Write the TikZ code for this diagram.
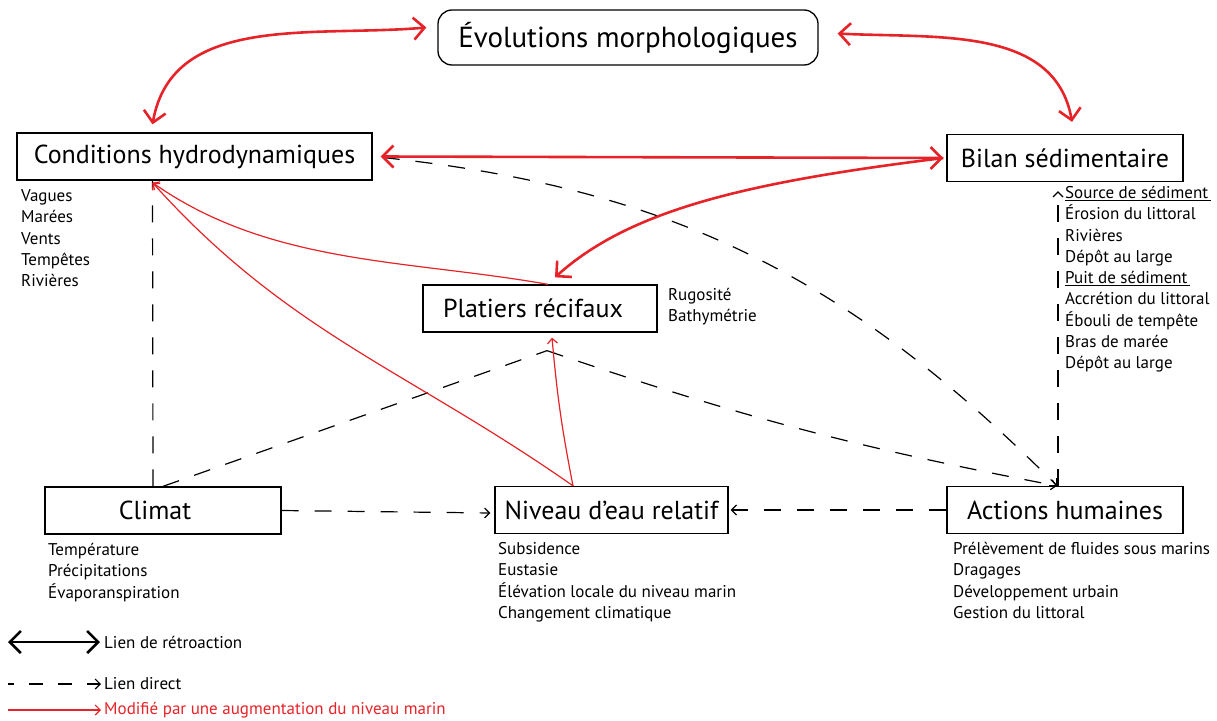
\documentclass[tikz,border=0pt]{standalone}
\usepackage{fontspec}
\setmainfont{PT Sans}
\usetikzlibrary{arrows.meta}
\definecolor{linkred}{RGB}{230,35,40}
\tikzset{
  barb/.tip={Straight Barb[length=11pt,width=22pt]},
  smallbarb/.tip={Straight Barb[length=5pt,width=10pt]}
}

\begin{document}
\begin{tikzpicture}[x=1pt, y=1pt,
  box/.style={draw, line width=1.3pt, minimum height=47pt, inner sep=0pt,
              font=\fontsize{26}{30}\selectfont},
  lst/.style={anchor=north west, align=left, inner sep=0pt, font=\fontsize{17}{21.3}\selectfont},
  leg/.style={anchor=west, inner sep=0pt, font=\fontsize{17}{21}\selectfont},
  fb/.style={linkred, line width=2.6pt, barb-barb},
  thk/.style={linkred, line width=2.6pt, -barb},
  sl/.style={linkred, line width=1.2pt, -smallbarb},
  dl/.style={line width=1.2pt, dash pattern=on 17pt off 16pt}
]
\useasboundingbox (0,0) rectangle (1217,-720);

% ---------------- boxes ----------------
\node[box, rounded corners=14pt, minimum width=380pt, minimum height=55pt,
      font=\fontsize{29}{32}\selectfont] (evo) at (628,-37.5) {Évolutions morphologiques};
\node[box, minimum width=355pt] (hydro) at (194.5,-156.5) {Conditions hydrodynamiques};
\node[box, minimum width=236pt] (bilan) at (1065,-158) {Bilan sédimentaire};
\node[box, minimum width=234pt] (platiers) at (540,-308.5) {Platiers récifaux\hspace*{14pt}};
\node[box, minimum width=236pt] (climat) at (163,-510.5) {Climat\hspace*{16pt}};
\node[box, minimum width=233pt] (niveau) at (611.5,-510) {Niveau d’eau relatif};
\node[box, minimum width=236pt] (actions) at (1065,-510) {Actions humaines};

% ---------------- lists ----------------
\node[lst] (hydrolist) at (21,-186.3) {\strut Vagues\\Marées\\Vents\\Tempêtes\\Rivières};
\node[lst] (bilanlist) at (1065,-183.3) {\strut\underline{Source de sédiment\,}\\Érosion du littoral\\Rivières\\Dépôt au large\\
  \underline{Puit de sédiment\,}\\Accrétion du littoral\\Ébouli de tempête\\Bras de marée\\Dépôt au large};
\node[lst] (platierslist) at (668,-285.3) {\strut Rugosité\\Bathymétrie};
\node[lst] (climatlist) at (48,-540.3) {\strut Température\\Précipitations\\Évaporanspiration};
\node[lst] (niveaulist) at (498,-539.3) {\strut Subsidence\\Eustasie\\Élévation locale du niveau marin\\Changement climatique};
\node[lst] (actionslist) at (953,-539.3) {\strut Prélèvement de fluides sous marins\\Dragages\\Développement urbain\\Gestion du littoral};

% ---------------- direct links ----------------
\draw[dl] ([xshift=-10pt]climat.north) -- ([xshift=-42pt]hydro.south);
\draw[dl] (climat.north) -- ([xshift=7pt,yshift=-18pt]platiers.south);
\draw[dl, -smallbarb] ([xshift=7pt,yshift=-18pt]platiers.south) to[bend right=4] ([xshift=-8pt]actions.north);
\draw[dl, -smallbarb] ([xshift=10pt,yshift=-1pt]hydro.east) to[out=-6, in=135] ([xshift=-8pt]actions.north);
\draw[dl, -smallbarb] ([xshift=-7pt]actions.north) -- ([xshift=-7pt,yshift=-9pt]bilan.south);
\draw[dl, -smallbarb] (climat.east) -- ([xshift=-4pt,yshift=-3pt]niveau.west);
\draw[dl, -smallbarb] (actions.west) -- ([xshift=2pt]niveau.east);

% ---------------- sea level links ----------------
\draw[sl] ([xshift=8pt]platiers.north) to[out=170, in=-35, looseness=0.9] ([xshift=-42pt,yshift=-2pt]hydro.south);
\draw[sl] ([xshift=-38.5pt]niveau.north) to[out=145, in=-48] ([xshift=-42pt,yshift=-2pt]hydro.south);
\draw[sl] ([xshift=-38.5pt]niveau.north) to[bend left=3] ([xshift=12pt,yshift=-5pt]platiers.south);

% ---------------- feedback links ----------------
\draw[fb] ([xshift=-11pt,yshift=10pt]evo.west) to[out=185, in=80] ([xshift=-42pt,yshift=8pt]hydro.north);
\draw[fb] ([xshift=19pt,yshift=4pt]evo.east) to[out=-3, in=100] ([xshift=7pt,yshift=12pt]bilan.north);
\draw[fb] ([xshift=8pt]hydro.east) -- ([xshift=-3pt]bilan.west);
\draw[thk] ([xshift=-3pt]bilan.west) to[out=187, in=42, out looseness=1.26, in looseness=0.63] ([xshift=15pt,yshift=7pt]platiers.north);

% ---------------- legend ----------------
\coordinate (fbA) at (8,-642);
\coordinate (dA) at (8,-684);
\coordinate (rA) at (8,-710);
\node[leg] (legfb) at (104,-642) {Lien de rétroaction};
\node[leg] (legd) at (104,-684) {Lien direct};
\node[leg, text=linkred] (legr) at (104,-710) {Modifié par une augmentation du niveau marin};
\draw[fb, black] (fbA) -- ([xshift=-4pt]legfb.west);
\draw[dl, dash pattern=on 14pt off 15pt, dash phase=8pt, -smallbarb] (dA) -- ([xshift=-3pt]legd.west);
\draw[sl] (rA) -- ([xshift=-3pt]legr.west);
\end{tikzpicture}
\end{document}
